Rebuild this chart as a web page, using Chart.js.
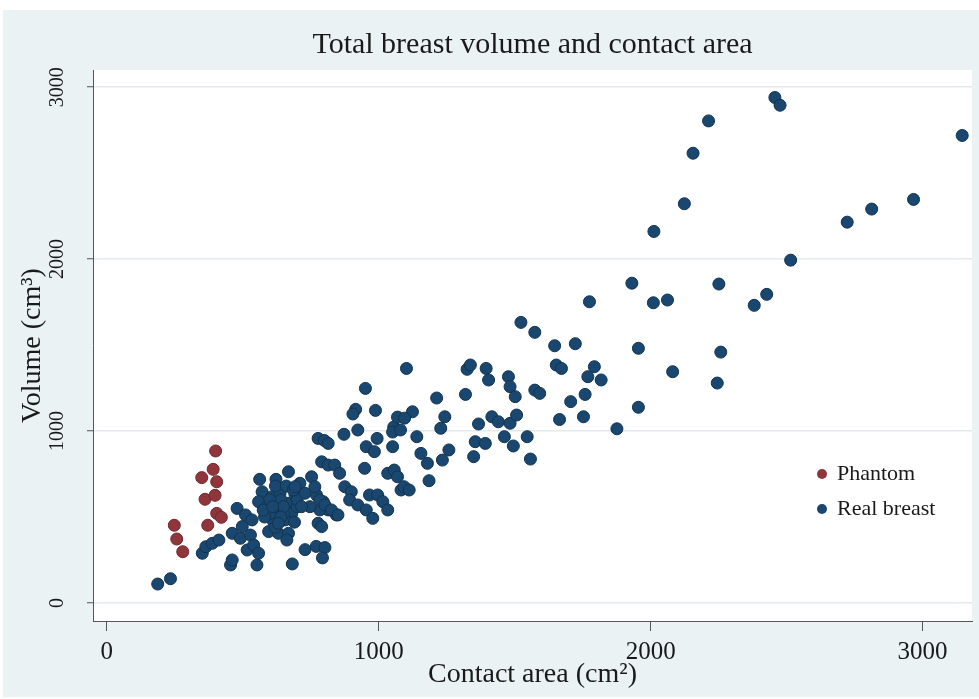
<!DOCTYPE html>
<html>
<head>
<meta charset="utf-8">
<script src="https://cdn.jsdelivr.net/npm/chart.js@4.4.1/dist/chart.umd.min.js"></script>
<style>
  body { margin: 0; background: #fff; }
  #wrap { position: relative; width: 979px; height: 699px; }
  #legend { position: absolute; left: 812px; top: 459px; font-family: "Liberation Serif", "Times New Roman", serif; font-size: 22px; color: #1a1a1a; }
  #legend div { height: 35px; line-height: 28px; white-space: nowrap; }
  #legend span.dot { display: inline-block; width: 10px; height: 10px; border-radius: 50%; margin: 0 10px 0 5px; vertical-align: 1px; }
</style>
</head>
<body>
<div id="wrap">
  <canvas id="scatter" width="979" height="699"></canvas>
  <div id="legend"></div>
</div>
<script>
// contact area (cm2), volume (cm3)
const phantomPoints = [
  [400, 884], [391, 777], [349, 729], [404, 705], [361, 603], [398, 626],
  [404, 521], [421, 498], [371, 452], [248, 452], [257, 372], [279, 298]
];

const realPoints = [
  [187, 110], [234, 141], [351, 289], [364, 327], [388, 347], [412, 366],
  [455, 221], [461, 250], [552, 221], [682, 227],
  [461, 405], [479, 550], [491, 376], [498, 444], [510, 512], [516, 308],
  [528, 395], [534, 483], [540, 337], [558, 289],
  [562, 719], [622, 719], [668, 763], [571, 647], [558, 589], [589, 560],
  [607, 618], [637, 638], [662, 580], [631, 541], [680, 521], [656, 483],
  [613, 473], [595, 415], [631, 405], [668, 405], [662, 366], [692, 628],
  [600, 520], [640, 600], [580, 500], [620, 440], [650, 520], [700, 560],
  [690, 470], [600, 600], [650, 560], [620, 680], [700, 600], [660, 680],
  [575, 540], [640, 500], [610, 560],
  [753, 734], [710, 696], [686, 657], [729, 638], [771, 628], [796, 589],
  [814, 541], [844, 512], [777, 463], [783, 541], [747, 560], [716, 560],
  [631, 463], [729, 310], [770, 329], [802, 322], [793, 262],
  [692, 676], [765, 676], [783, 599], [802, 570], [826, 541], [850, 512], [790, 444],
  [777, 957], [800, 945], [814, 928],
  [872, 981], [923, 1006], [994, 957], [954, 909], [984, 880], [1051, 909],
  [1140, 967], [1155, 870], [1179, 812], [1234, 831], [1258, 890], [1355, 938], [1349, 851],
  [790, 821], [814, 802], [838, 802], [856, 754], [948, 783], [1033, 754],
  [1057, 773], [1069, 734], [1082, 657], [1093, 676], [1112, 657], [1185, 711],
  [875, 676], [899, 647], [893, 599], [923, 570], [954, 541], [978, 492],
  [966, 628], [996, 628], [1015, 589], [1033, 541],
  [1102, 1364], [1325, 1359], [1337, 1384], [1319, 1213], [951, 1248], [1213, 1192],
  [915, 1126], [905, 1099], [988, 1120], [1124, 1112], [1243, 1083], [1228, 1016],
  [1055, 1023], [1051, 994], [1080, 1006], [1069, 1081], [1095, 1075],
  [1523, 1632], [1574, 1574], [1647, 1496], [1723, 1508], [1395, 1364], [1404, 1297],
  [1477, 1316], [1483, 1258], [1502, 1200], [1653, 1384], [1672, 1364], [1793, 1374],
  [1769, 1316], [1818, 1297], [1574, 1238], [1592, 1219], [1759, 1213], [1706, 1171],
  [1367, 1041], [1416, 1083], [1440, 1054], [1483, 1045], [1507, 1093], [1665, 1067],
  [1753, 1083], [1392, 928], [1462, 967], [1495, 913], [1546, 967], [1558, 837],
  [2457, 2940], [2476, 2895], [2213, 2804], [2156, 2616], [3146, 2719], [2124, 2322],
  [2012, 2161], [2967, 2347], [2813, 2291], [2723, 2215], [2515, 1994], [1931, 1860],
  [2010, 1746], [2062, 1762], [2251, 1855], [2381, 1731], [2427, 1795], [1775, 1752],
  [1955, 1481], [2258, 1459], [2081, 1345], [2245, 1279], [1955, 1138], [1876, 1013]
];

const seriesNames = ['Phantom', 'Real breast'];
const seriesColors = ['#90353b', '#1a476f'];
const xTicks = [0, 1000, 2000, 3000];
const yTicks = [0, 1000, 2000, 3000];

const serif = '"Liberation Serif", "Times New Roman", serif';
Chart.defaults.font.family = serif;
Chart.defaults.color = '#1a1a1a';

// stata-like grey graph region with a white plot region
const backdrop = {
  id: 'backdrop',
  beforeDraw(chart) {
    const { ctx, chartArea: a } = chart;
    ctx.save();
    ctx.fillStyle = '#eaf2f3';
    ctx.fillRect(3, 10, chart.width - 3, chart.height - 12);
    ctx.fillStyle = '#ffffff';
    ctx.fillRect(a.left, a.top, a.right - a.left, a.bottom - a.top);
    ctx.restore();
  }
};

function toXY(list) {
  return list.map(p => ({ x: p[0], y: p[1] }));
}

const plainNumber = v => String(v);

const ctx = document.getElementById('scatter').getContext('2d');
const chart = new Chart(ctx, {
  type: 'scatter',
  data: {
    datasets: [phantomPoints, realPoints].map((pts, i) => ({
      label: seriesNames[i],
      data: toXY(pts),
      backgroundColor: seriesColors[i],
      borderColor: i === 0 ? '#6e2a2f' : '#13344f',
      borderWidth: 1,
      pointRadius: 6,
      pointHoverRadius: 6
    }))
  },
  options: {
    responsive: false,
    animation: false,
    layout: { padding: 0 },
    plugins: {
      legend: { display: false },
      tooltip: { enabled: false },
      title: {
        display: true,
        fullSize: false,
        text: 'Total breast volume and contact area',
        color: '#1a1a1a',
        font: { size: 30, weight: 'normal' },
        padding: { top: 27, bottom: 7 }
      }
    },
    scales: {
      x: {
        type: 'linear',
        min: -51,
        max: 3182,
        afterBuildTicks: s => { s.ticks = xTicks.map(v => ({ value: v })); },
        afterFit: s => { s.height = 78; },
        ticks: { padding: 6, font: { size: 25 }, color: '#1a1a1a', callback: plainNumber },
        grid: { drawOnChartArea: false, tickLength: 10, tickColor: '#555', tickWidth: 1 },
        border: { color: '#555', width: 1 },
        title: {
          display: true,
          text: 'Contact area (cm²)',
          color: '#1a1a1a',
          font: { size: 28 },
          padding: { top: 0, bottom: 8 }
        }
      },
      y: {
        type: 'linear',
        min: -105,
        max: 3100,
        afterBuildTicks: s => { s.ticks = yTicks.map(v => ({ value: v })); },
        afterFit: s => { s.width = 93; },
        ticks: { minRotation: 90, maxRotation: 90, crossAlign: 'center', padding: 9, font: { size: 20 }, color: '#1a1a1a', callback: plainNumber },
        grid: { color: '#e2eaec', lineWidth: 1.5, tickLength: 6, tickColor: '#555', tickWidth: 1 },
        border: { color: '#555', width: 1 },
        title: {
          display: true,
          text: 'Volume (cm³)',
          color: '#1a1a1a',
          font: { size: 28 },
          padding: { top: 16, bottom: 0 }
        }
      }
    }
  },
  plugins: [backdrop]
});

// legend sits inside the plot region, like the original
const legendBox = document.getElementById('legend');
chart.data.datasets.forEach(ds => {
  const row = document.createElement('div');
  row.innerHTML = `<span class="dot" style="background:${ds.backgroundColor}"></span>${ds.label}`;
  legendBox.appendChild(row);
});
</script>
</body>
</html>
